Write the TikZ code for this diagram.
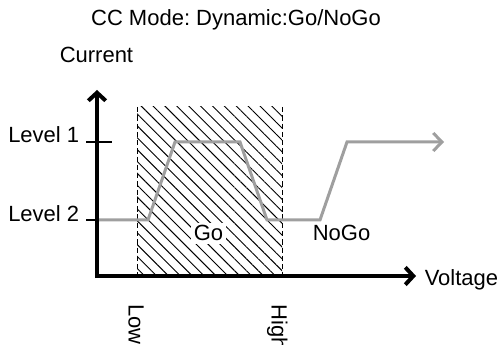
\documentclass[tikz,border=0pt]{standalone}
\usepackage{fontspec}
\setmainfont{Liberation Sans}
\usetikzlibrary{arrows.meta,patterns.meta}
\frenchspacing
\begin{document}
\begin{tikzpicture}[x=0.75pt,y=-0.75pt,
  lbl/.style={inner sep=0pt,font=\fontsize{16.5}{19.5}\selectfont},
  axis/.style={line width=3pt,-{Straight Barb[length=6pt,width=13pt]}},
  trace/.style={line width=2.25pt,draw=gray!75,line join=miter,-{Straight Barb[length=6.5pt,width=13.5pt]}},
  limit/.style={line width=0.7pt,dash pattern=on 4pt off 2.2pt},
  tick/.style={line width=0.8pt}]
\clip (0,0) rectangle (503,345);
% hatched Go window
\fill[pattern={Lines[angle=-45,distance=6.3pt,line width=0.7pt]}] (137,107) rectangle (282,276);
\coordinate (lowtop) at (137,107);
\coordinate (lowbot) at (137,276);
\coordinate (hightop) at (282,107);
\coordinate (highbot) at (282,276);
\draw[limit] (lowtop) -- (lowbot);
\draw[limit] (hightop) -- (highbot);
% ticks
\coordinate (t1a) at (86,142); \coordinate (t1b) at (112,142);
\coordinate (t2a) at (86,220); \coordinate (t2b) at (97,220);
\draw[tick] (t1a) -- (t1b);
\draw[tick] (t2a) -- (t2b);
% trace
\coordinate (p0) at (98,220);
\coordinate (p1) at (148,220);
\coordinate (p2) at (175,142);
\coordinate (p3) at (240,142);
\coordinate (p4) at (267,220);
\coordinate (p5) at (320,220);
\coordinate (p6) at (347,142);
\coordinate (p7) at (444,142);
\draw[trace] (p0) -- (p1) -- (p2) -- (p3) -- (p4) -- (p5) -- (p6) -- (p7);
% axes
\coordinate (O) at (97,276);
\coordinate (ytop) at (97,90);
\coordinate (xend) at (416,276);
\draw[axis] ([yshift=-1.5pt]O) -- (ytop);
\draw[axis] ([xshift=-1.5pt]O) -- (xend);
% labels
\node[lbl,anchor=base] (title) at (236,26) {CC Mode: Dynamic:Go/NoGo};
\node[lbl,anchor=base west] (current) at (59.5,62.5) {Current};
\node[lbl,anchor=base west] (lv1) at (8,143) {Level 1};
\node[lbl,anchor=base west] (lv2) at (8,221.5) {Level 2};
\node[lbl,anchor=base,fill=white,inner sep=2pt] (go) at (208.5,241) {Go};
\node[lbl,anchor=base] (nogo) at (341.5,241) {NoGo};
\node[lbl,anchor=base west] (volt) at (424.5,286) {Voltage};
\node[lbl,anchor=base west,rotate=-90] (low) at (128.5,304) {Low};
\node[lbl,anchor=base west,rotate=-90] (high) at (271.5,304) {High};
\end{tikzpicture}
\end{document}
